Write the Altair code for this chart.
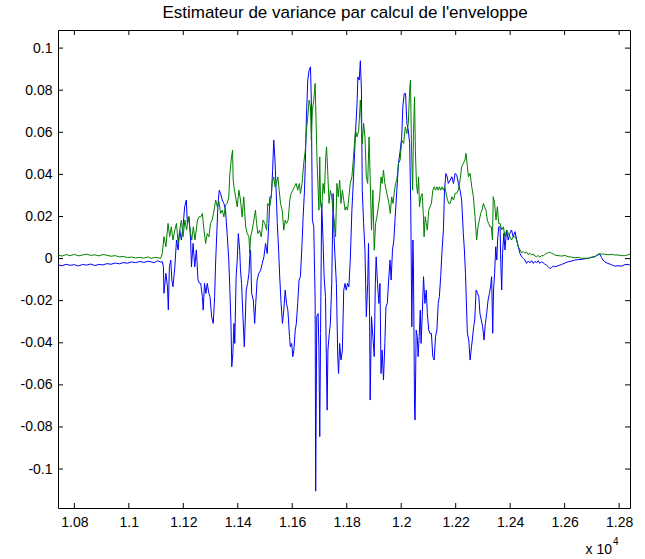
import altair as alt
import pandas as pd

title_text = "Estimateur de variance par calcul de l'enveloppe"

blue_x = [10741, 10755, 10770, 10785, 10800, 10815, 10830, 10845, 10860, 10875, 10890, 10905, 10920, 10935, 10950, 10965, 10980, 10995, 11010, 11025, 11040, 11055, 11070,
          11081, 11093, 11105, 11117, 11123, 11127, 11129, 11136, 11142, 11145, 11149, 11154, 11158, 11162, 11169, 11175, 11181, 11187, 11193, 11199, 11205, 11211, 11215, 11221, 11227, 11230, 11236, 11242, 11248, 11254, 11260,
          11264, 11270, 11273, 11278, 11283, 11288, 11294, 11298, 11304, 11310, 11315, 11319, 11322, 11327, 11332, 11337, 11343, 11349, 11355, 11361, 11367, 11371, 11375, 11378, 11382, 11386, 11389, 11394, 11398, 11402, 11407, 11410, 11414, 11419, 11424, 11427, 11431, 11436, 11441, 11444,
          11447, 11451, 11457, 11462, 11466, 11471, 11477, 11484, 11490, 11496, 11502, 11508, 11514, 11518, 11523, 11528, 11532, 11536, 11540, 11545, 11550, 11554, 11559, 11564, 11569, 11574, 11579, 11584, 11590, 11593, 11598, 11602, 11606, 11611, 11615, 11620, 11625,
          11630, 11636, 11640, 11645, 11648, 11652, 11657, 11662, 11667, 11670, 11674, 11679, 11684, 11686, 11690, 11695, 11698, 11701, 11704, 11708, 11713, 11717, 11722, 11728, 11731, 11736, 11740, 11745, 11750, 11753, 11757, 11762, 11767, 11770, 11774, 11779, 11784, 11789, 11794, 11798, 11803, 11808,
          11813, 11819, 11825, 11832, 11838, 11841, 11846, 11850, 11854, 11857, 11862, 11867, 11872, 11877, 11880, 11884, 11886, 11891, 11896, 11901, 11905, 11908, 11913, 11918, 11922, 11926, 11930, 11935, 11940, 11944, 11949, 11954, 11959, 11963, 11968, 11973, 11978, 11984, 11990,
          11996, 12002, 12006, 12011, 12016, 12021, 12026, 12031, 12035, 12039, 12043, 12045, 12049, 12051, 12055, 12059, 12062, 12066, 12070, 12073, 12077, 12082, 12087, 12092, 12096, 12101, 12106, 12111, 12116, 12121, 12126, 12131, 12136, 12140, 12145, 12150, 12155, 12159, 12164, 12169, 12173,
          12180, 12186, 12192, 12198, 12204, 12210, 12216, 12222, 12228, 12232, 12236, 12239, 12243, 12248, 12253, 12258, 12261, 12266, 12270, 12275, 12280, 12285, 12289, 12294, 12299, 12304, 12309, 12314, 12319, 12324, 12328, 12332, 12336, 12339, 12343, 12347, 12351, 12354, 12358,
          12363, 12366, 12369, 12372, 12377, 12381, 12387, 12393, 12399, 12405, 12411, 12418, 12424, 12430, 12436, 12442, 12448, 12454, 12460, 12466, 12473, 12479, 12485, 12491, 12497, 12503, 12509, 12515, 12521, 12527, 12534, 12540, 12546, 12552, 12558,
          12564, 12576, 12589, 12601, 12613, 12625, 12637, 12650, 12662, 12674, 12686, 12698, 12711, 12723, 12729, 12735, 12741, 12747, 12759, 12772, 12784, 12796, 12808, 12821, 12833, 12840]

blue_y = [-0.0030, -0.0034, -0.0027, -0.0032, -0.0029, -0.0035, -0.0028, -0.0031, -0.0026, -0.0033, -0.0028, -0.0030, -0.0024, -0.0027, -0.0021, -0.0025, -0.0019, -0.0022, -0.0016, -0.0019, -0.0014, -0.0018, -0.0013,
          -0.0015, -0.0020, -0.0010, -0.0016, -0.0015, -0.0039, -0.0165, -0.0070, -0.0134, -0.0244, -0.0039, -0.0007, -0.0102, -0.0134, -0.0039, 0.0088, 0.0041, 0.0136, 0.0088, 0.0151, 0.0246, 0.0278, 0.0167, 0.0199, 0.0088, -0.0039, 0.0072, -0.0039, 0.0041, -0.0102, -0.0118,
          -0.0118, -0.0181, -0.0245, -0.0118, -0.0166, -0.0118, -0.0166, -0.0181, -0.0276, -0.0308, -0.0181, -0.0007, 0.0088, 0.0246, 0.0325, 0.0309, 0.0278, 0.0262, 0.0230, 0.0119, -0.0007, -0.0150, -0.0308, -0.0514, -0.0451, -0.0308, -0.0403, -0.0086, -0.0007, 0.0119, 0.0040, -0.0055, -0.0118, -0.0276, -0.0419, -0.0308, -0.0150, -0.0118, -0.0071, 0.0008,
          0.0040, -0.0166, -0.0197, -0.0308, -0.0213, -0.0102, -0.0071, -0.0055, -0.0023, 0.0008, 0.0072, 0.0024, 0.0167, 0.0293, 0.0293, 0.0420, 0.0563, 0.0483, 0.0357, 0.0167, 0.0040, -0.0086, -0.0213, -0.0308, -0.0245, -0.0150, -0.0213, -0.0245, -0.0371, -0.0419, -0.0403, -0.0466, -0.0435, -0.0340, -0.0308, -0.0213, -0.0102,
          -0.0086, 0.0072, 0.0199, 0.0325, 0.0452, 0.0673, 0.0848, 0.0895, 0.0911, 0.0753, 0.0183, 0.0151, -0.0197, -0.1105, -0.0276, -0.0261, -0.0435, -0.0846, -0.0356, 0.0262, 0.0088, -0.0086, -0.0181, -0.0720, -0.0435, -0.0356, -0.0308, -0.0118, 0.0309, 0.0119, 0.0008, -0.0118, -0.0466, -0.0546, -0.0403, -0.0482, -0.0435, -0.0150, -0.0118, -0.0150, -0.0118, -0.0134,
          -0.0007, 0.0230, 0.0388, 0.0594, 0.0737, 0.0863, 0.0848, 0.0940, 0.0800, 0.0325, 0.0167, 0.0040, -0.0276, -0.0118, 0.0072, -0.0276, -0.0672, -0.0276, -0.0371, -0.0466, -0.0118, 0.0008, -0.0118, -0.0213, -0.0118, -0.0546, -0.0435, -0.0577, -0.0403, -0.0229, -0.0213, -0.0102, -0.0007, -0.0102, 0.0040, 0.0088, 0.0199, 0.0325, 0.0452,
          0.0510, 0.0578, 0.0721, 0.0784, 0.0784, 0.0642, 0.0610, 0.0547, 0.0262, -0.0324, 0.0088, -0.0039, -0.0720, -0.0767, -0.0340, -0.0371, -0.0466, -0.0371, -0.0245, -0.0403, -0.0276, -0.0086, -0.0213, -0.0150, -0.0261, -0.0340, -0.0356, -0.0356, -0.0466, -0.0482, -0.0371, -0.0340, -0.0213, -0.0181, -0.0086, 0.0040, 0.0135, 0.0325, 0.0404, 0.0388, 0.0357,
          0.0373, 0.0389, 0.0357, 0.0405, 0.0397, 0.0357, 0.0326, 0.0278, 0.0120, 0.0041, -0.0070, -0.0197, -0.0355, -0.0387, -0.0482, -0.0419, -0.0387, -0.0324, -0.0292, -0.0149, -0.0165, -0.0181, -0.0260, -0.0292, -0.0324, -0.0387, -0.0308, -0.0260, -0.0197, -0.0165, -0.0134, -0.0086, -0.0355, -0.0149, -0.0070, 0.0056, -0.0007, 0.0088, 0.0151,
          0.0151, -0.0039, -0.0149, 0.0025, 0.0120, 0.0041, 0.0136, 0.0088, 0.0120, 0.0136, 0.0104, 0.0128, 0.0088, 0.0056, 0.0025, 0.0009, 0.0001, -0.0007, -0.0023, -0.0012, -0.0020, -0.0010, -0.0023, -0.0013, -0.0020, -0.0010, -0.0023, -0.0015, -0.0020, -0.0026, -0.0032, -0.0039, -0.0047, -0.0043, -0.0035,
          -0.0039, -0.0034, -0.0028, -0.0021, -0.0015, -0.0012, -0.0007, -0.0005, -0.0004, -0.0001, 0.0001, 0.0006, 0.0009, 0.0018, 0.0021, 0.0006, -0.0007, -0.0015, -0.0023, -0.0029, -0.0036, -0.0034, -0.0036, -0.0029, -0.0028, -0.0031]

green_x = [10741, 10755, 10770, 10785, 10800, 10815, 10830, 10845, 10860, 10875, 10890, 10905, 10920, 10935, 10950, 10965, 10980, 10995, 11010, 11025, 11040, 11055, 11070,
           11081, 11099, 11117, 11123, 11129, 11136, 11144, 11150, 11156, 11162, 11169, 11175, 11181, 11187, 11193, 11199, 11206, 11212, 11219, 11225, 11231, 11237, 11243, 11252, 11258,
           11264, 11270, 11276, 11282, 11288, 11294, 11300, 11306, 11313, 11319, 11325, 11331, 11337, 11343, 11349, 11355, 11361, 11367, 11371, 11377, 11381, 11383, 11386, 11392, 11398, 11404, 11410, 11416, 11422, 11429, 11435, 11441, 11444,
           11447, 11453, 11459, 11465, 11469, 11474, 11480, 11486, 11493, 11499, 11506, 11510, 11517, 11523, 11526, 11532, 11537, 11542, 11547, 11552, 11557, 11563, 11569, 11574, 11579, 11585, 11591, 11596, 11602, 11608, 11614, 11620, 11626,
           11630, 11636, 11642, 11648, 11652, 11657, 11662, 11667, 11670, 11674, 11679, 11684, 11687, 11691, 11695, 11698, 11701, 11704, 11708, 11713, 11718, 11723, 11726, 11730, 11735, 11740, 11745, 11750, 11755, 11759, 11764, 11769, 11774, 11779, 11784, 11789, 11794, 11798, 11803, 11808,
           11813, 11819, 11825, 11832, 11838, 11844, 11850, 11854, 11857, 11862, 11867, 11872, 11877, 11882, 11886, 11891, 11896, 11901, 11906, 11911, 11916, 11921, 11926, 11930, 11935, 11940, 11945, 11950, 11955, 11960, 11965, 11970, 11974, 11979, 11984, 11990,
           11996, 12002, 12009, 12015, 12021, 12026, 12031, 12034, 12038, 12042, 12045, 12049, 12052, 12056, 12060, 12064, 12067, 12072, 12077, 12081, 12084, 12088, 12092, 12096, 12101, 12106, 12111, 12116, 12121, 12126, 12131, 12136, 12140, 12145, 12150, 12155, 12160, 12165, 12170, 12175,
           12180, 12186, 12192, 12198, 12204, 12210, 12216, 12222, 12228, 12234, 12238, 12243, 12247, 12253, 12259, 12265, 12271, 12277, 12282, 12287, 12292, 12297, 12302, 12306, 12311, 12316, 12321, 12326, 12331, 12335, 12338, 12343, 12348, 12353, 12358,
           12363, 12369, 12375, 12381, 12387, 12393, 12399, 12405, 12411, 12418, 12424, 12430, 12436, 12442, 12448, 12454, 12460, 12466, 12473, 12479, 12485, 12491, 12497, 12503, 12509, 12515, 12521, 12527, 12534, 12540, 12546, 12552, 12558,
           12564, 12576, 12589, 12601, 12613, 12625, 12637, 12650, 12662, 12674, 12686, 12698, 12711, 12723, 12729, 12735, 12747, 12759, 12772, 12784, 12796, 12808, 12821, 12833, 12840]

green_y = [0.0016, 0.0012, 0.0019, 0.0014, 0.0020, 0.0013, 0.0017, 0.0021, 0.0015, 0.0018, 0.0013, 0.0019, 0.0016, 0.0011, 0.0014, 0.0008, 0.0010, 0.0005, 0.0007, 0.0003, 0.0006, 0.0002, 0.0008,
           0.0001, 0.0006, 0.0001, 0.0025, 0.0104, 0.0056, 0.0167, 0.0104, 0.0151, 0.0088, 0.0136, 0.0167, 0.0072, 0.0136, 0.0183, 0.0104, 0.0183, 0.0136, 0.0199, 0.0136, 0.0088, 0.0151, 0.0088, 0.0183, 0.0199,
           0.0198, 0.0214, 0.0135, 0.0072, 0.0119, 0.0103, 0.0167, 0.0183, 0.0230, 0.0278, 0.0246, 0.0270, 0.0214, 0.0230, 0.0198, 0.0254, 0.0262, 0.0293, 0.0404, 0.0483, 0.0515, 0.0373, 0.0341, 0.0293, 0.0246, 0.0325, 0.0278, 0.0198, 0.0293, 0.0151, 0.0119, 0.0103, 0.0024,
           0.0103, 0.0135, 0.0183, 0.0230, 0.0167, 0.0119, 0.0135, 0.0103, 0.0183, 0.0167, 0.0135, 0.0262, 0.0246, 0.0293, 0.0357, 0.0388, 0.0341, 0.0357, 0.0388, 0.0325, 0.0262, 0.0230, 0.0135, 0.0183, 0.0167, 0.0183, 0.0278, 0.0309, 0.0325, 0.0341, 0.0357, 0.0325, 0.0357,
           0.0309, 0.0357, 0.0452, 0.0515, 0.0610, 0.0673, 0.0753, 0.0721, 0.0563, 0.0705, 0.0753, 0.0832, 0.0673, 0.0468, 0.0325, 0.0230, 0.0483, 0.0262, 0.0230, 0.0357, 0.0309, 0.0483, 0.0531, 0.0420, 0.0262, 0.0325, 0.0293, 0.0230, 0.0167, 0.0103, 0.0357, 0.0293, 0.0373, 0.0262, 0.0325, 0.0278, 0.0230, 0.0246, 0.0230, 0.0293,
           0.0357, 0.0388, 0.0483, 0.0610, 0.0578, 0.0610, 0.0753, 0.0642, 0.0547, 0.0642, 0.0578, 0.0388, 0.0357, 0.0578, 0.0388, 0.0135, 0.0325, 0.0040, 0.0167, 0.0199, 0.0246, 0.0293, 0.0388, 0.0357, 0.0420, 0.0357, 0.0325, 0.0293, 0.0262, 0.0214, 0.0293, 0.0262, 0.0309, 0.0357, 0.0373, 0.0452,
           0.0468, 0.0563, 0.0547, 0.0626, 0.0594, 0.0642, 0.0800, 0.0848, 0.0515, 0.0325, 0.0594, 0.0768, 0.0515, 0.0357, 0.0309, 0.0388, 0.0246, 0.0293, 0.0309, 0.0214, 0.0103, 0.0199, 0.0167, 0.0135, 0.0230, 0.0246, 0.0262, 0.0325, 0.0341, 0.0325, 0.0341, 0.0325, 0.0341, 0.0325, 0.0341, 0.0325, 0.0341, 0.0309, 0.0278, 0.0262,
           0.0262, 0.0294, 0.0278, 0.0310, 0.0310, 0.0326, 0.0373, 0.0436, 0.0452, 0.0468, 0.0500, 0.0436, 0.0389, 0.0405, 0.0341, 0.0294, 0.0199, 0.0088, 0.0151, 0.0183, 0.0215, 0.0231, 0.0262, 0.0246, 0.0231, 0.0183, 0.0167, 0.0151, 0.0151, 0.0088, 0.0294, 0.0262, 0.0183, 0.0246, 0.0167,
           0.0167, 0.0136, 0.0151, 0.0104, 0.0136, 0.0120, 0.0104, 0.0088, 0.0104, 0.0104, 0.0088, 0.0056, 0.0041, 0.0028, 0.0033, 0.0025, 0.0031, 0.0020, 0.0025, 0.0017, 0.0022, 0.0012, 0.0009, 0.0015, 0.0006, 0.0015, 0.0012, 0.0020, 0.0025, 0.0028, 0.0031, 0.0025, 0.0022,
           0.0017, 0.0014, 0.0012, 0.0015, 0.0009, 0.0007, 0.0004, 0.0006, 0.0001, 0.0002, 0.0001, 0.0006, 0.0009, 0.0021, 0.0024, 0.0021, 0.0021, 0.0018, 0.0020, 0.0017, 0.0017, 0.0014, 0.0014, 0.0018, 0.0021]

x_ticks = [10800, 11000, 11200, 11400, 11600, 11800, 12000, 12200, 12400, 12600, 12800]
y_ticks = [-0.1, -0.08, -0.06, -0.04, -0.02, 0, 0.02, 0.04, 0.06, 0.08, 0.1]
x_domain = [10740, 12840]
y_domain = [-0.1185, 0.1086]

W, H = 572, 478
FONT = "Liberation Sans"
FS = 14

blue_df = pd.DataFrame({"x": blue_x, "y": blue_y})
green_df = pd.DataFrame({"x": green_x, "y": green_y})
xt_df = pd.DataFrame({"t": x_ticks})
yt_df = pd.DataFrame({"t": y_ticks})
one = pd.DataFrame({"a": [0]})

xs = alt.Scale(domain=x_domain, nice=False, zero=False)
ys = alt.Scale(domain=y_domain, nice=False, zero=False)

x_axis = alt.Axis(values=x_ticks, labelExpr="format(datum.value / 10000, '.3~g')",
                  ticks=False, domain=False, grid=False, title=None,
                  labelFont=FONT, labelFontSize=FS, labelColor="black", labelPadding=7)
y_axis = alt.Axis(values=y_ticks,
                  labelExpr="datum.value < 0 ? '-' + format(-datum.value, '.2~g') : format(datum.value, '.2~g')",
                  ticks=False, domain=False, grid=False, title=None,
                  labelFont=FONT, labelFontSize=FS, labelColor="black", labelPadding=6)

blue = alt.Chart(blue_df).mark_line(color="#0000ff", strokeWidth=1, clip=True).encode(
    x=alt.X("x:Q", scale=xs, axis=x_axis), y=alt.Y("y:Q", scale=ys, axis=y_axis))
green = alt.Chart(green_df).mark_line(color="#008000", strokeWidth=1, clip=True).encode(
    x=alt.X("x:Q", scale=xs, axis=x_axis), y=alt.Y("y:Q", scale=ys, axis=y_axis))

tick_len = 5
xt_bottom = alt.Chart(xt_df).mark_rule(color="black", strokeWidth=1).encode(
    x=alt.X("t:Q", scale=xs, axis=x_axis), y=alt.value(H), y2=alt.value(H - tick_len))
xt_top = alt.Chart(xt_df).mark_rule(color="black", strokeWidth=1).encode(
    x=alt.X("t:Q", scale=xs, axis=x_axis), y=alt.value(0), y2=alt.value(tick_len))
yt_left = alt.Chart(yt_df).mark_rule(color="black", strokeWidth=1).encode(
    y=alt.Y("t:Q", scale=ys, axis=y_axis), x=alt.value(0), x2=alt.value(tick_len))
yt_right = alt.Chart(yt_df).mark_rule(color="black", strokeWidth=1).encode(
    y=alt.Y("t:Q", scale=ys, axis=y_axis), x=alt.value(W), x2=alt.value(W - tick_len))

title = alt.Chart(one).mark_text(text=title_text, font=FONT, fontSize=17, color="black",
                                 align="center", baseline="middle").encode(
    x=alt.value(W / 2 + 1), y=alt.value(-17))
exp_base = alt.Chart(one).mark_text(text="x 10", font=FONT, fontSize=FS, color="black",
                                    align="right", baseline="middle").encode(
    x=alt.value(554), y=alt.value(520))
exp_sup = alt.Chart(one).mark_text(text="4", font=FONT, fontSize=10, color="black",
                                   align="left", baseline="middle").encode(
    x=alt.value(555), y=alt.value(512))

chart = alt.layer(blue, green, xt_bottom, xt_top, yt_left, yt_right, title, exp_base, exp_sup).properties(
    width=W, height=H,
    autosize=alt.AutoSizeParams(type="none"),
    padding={"left": 58, "top": 30, "right": 15, "bottom": 51},
    background="white",
).configure_view(stroke="black", strokeWidth=1)

chart.save("out.html", embed_options={"renderer": "svg", "actions": False})
